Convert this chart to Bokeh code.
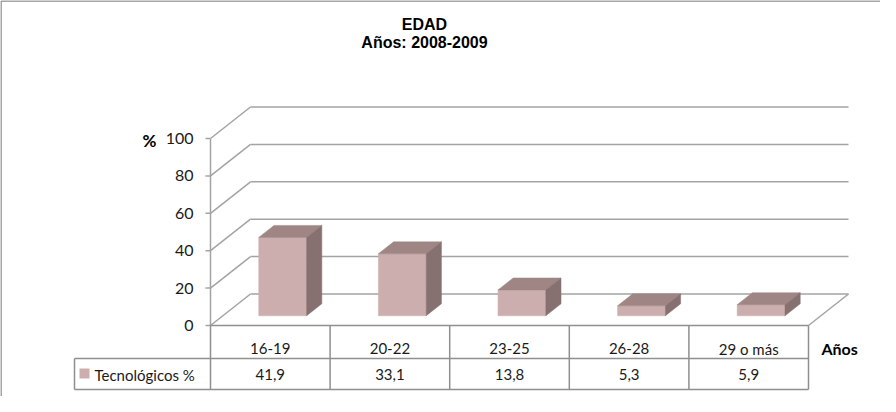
from bokeh.plotting import figure
from bokeh.models import Range1d
from bokeh.core.properties import value
from bokeh.embed import file_html
from bokeh.resources import INLINE

# ---- data ----
categories = ["16-19", "20-22", "23-25", "26-28", "29 o más"]
tecnologicos = [41.9, 33.1, 13.8, 5.3, 5.9]
value_labels = ["41,9", "33,1", "13,8", "5,3", "5,9"]
y_ticks = [0, 20, 40, 60, 80, 100]
series_name = "Tecnológicos %"
title_lines = ["EDAD", "Años: 2008-2009"]
x_axis_title = "Años"
y_axis_title = "%"

# ---- geometry / style ----
W, H = 880, 396
X0_PAGE, UNIT_X = 218.0, 119.6      # page x of category 0 edge, px per category
Y0_PAGE, UNIT_Y = 333.0, 1.87       # page y of value 0, px per value unit
DX, DY = 40 / UNIT_X, 31.5 / UNIT_Y  # depth offset in data units
F0, F1 = 0.31, 0.69                  # bar depth extents
BW = 0.40                            # bar width in categories

def px(xp):  # page x -> data x
    return (xp - X0_PAGE) / UNIT_X

def py(yp):  # page y -> data y
    return (Y0_PAGE - yp) / UNIT_Y

n = len(categories)
p = figure(width=W, height=H, output_backend="svg", toolbar_location=None,
           x_range=Range1d(px(8), px(8 + W)), y_range=Range1d(py(8 + H), py(8)),
           x_axis_type=None, y_axis_type=None, min_border=0)
p.grid.visible = False
p.outline_line_color = None
p.background_fill_color = "white"

GRID = "#A3A3A3"
TABLE = "#8F8F8F"
FONT = value("Lato")

# outer chart border (top + left visible)
p.segment(x0=[px(8.5), px(8.5)], y0=[py(8.5), py(8.5)],
          x1=[px(8 + W), px(8.5)], y1=[py(8.5), py(8 + H)],
          line_color="#8A8A8A", line_width=1.5)

# walls: left-wall diagonals, back gridlines
vmax = max(y_ticks)
p.segment(x0=[0] * len(y_ticks), y0=y_ticks,
          x1=[DX] * len(y_ticks), y1=[t + DY for t in y_ticks],
          line_color=GRID, line_width=1.5)
p.segment(x0=[DX] * len(y_ticks), y0=[t + DY for t in y_ticks],
          x1=[n + DX] * len(y_ticks), y1=[t + DY for t in y_ticks],
          line_color=GRID, line_width=1.5)
# floor right edge
p.segment(x0=[n], y0=[0], x1=[n + DX], y1=[DY], line_color=GRID, line_width=1.5)
# front value axis
p.segment(x0=[0], y0=[0], x1=[0], y1=[vmax], line_color=GRID, line_width=1.5)
p.segment(x0=[px(X0_PAGE - 5)] * len(y_ticks), y0=y_ticks,
          x1=[0] * len(y_ticks), y1=y_ticks, line_color=GRID, line_width=1.5)
p.text(x=[px(201)] * len(y_ticks), y=y_ticks, text=[str(t) for t in y_ticks],
       text_font=FONT, text_font_size="16px", text_align="right",
       text_baseline="middle", text_color="#1a1a1a")

# bars (3D boxes)
FRONT, TOP, SIDE = "#CDAEAE", "#9F8685", "#877170"
fx, fy, tx, ty, sx, sy = [], [], [], [], [], []
for i, v in enumerate(tecnologicos):
    c = i + 0.5
    l, r = c - BW / 2, c + BW / 2
    fx.append([l + F0 * DX, r + F0 * DX, r + F0 * DX, l + F0 * DX])
    fy.append([F0 * DY, F0 * DY, v + F0 * DY, v + F0 * DY])
    tx.append([l + F0 * DX, r + F0 * DX, r + F1 * DX, l + F1 * DX])
    ty.append([v + F0 * DY, v + F0 * DY, v + F1 * DY, v + F1 * DY])
    sx.append([r + F0 * DX, r + F1 * DX, r + F1 * DX, r + F0 * DX])
    sy.append([F0 * DY, F1 * DY, v + F1 * DY, v + F0 * DY])
p.patches(xs=fx, ys=fy, fill_color=FRONT, line_color=FRONT, line_width=0.5)
p.patches(xs=tx, ys=ty, fill_color=TOP, line_color=TOP, line_width=0.5)
p.patches(xs=sx, ys=sy, fill_color=SIDE, line_color=SIDE, line_width=0.5)

# data table
row1_bot = py(366)
row2_bot = py(397)
leg_left = px(82)
p.segment(x0=[0], y0=[0], x1=[n], y1=[0], line_color=TABLE, line_width=1.5)
p.segment(x0=list(range(n + 1)), y0=[0] * (n + 1),
          x1=list(range(n + 1)), y1=[row2_bot] * (n + 1),
          line_color=TABLE, line_width=1.5)
p.segment(x0=[leg_left, leg_left, leg_left], y0=[row1_bot, row2_bot, row1_bot],
          x1=[n, n, leg_left], y1=[row1_bot, row2_bot, row2_bot],
          line_color=TABLE, line_width=1.5)
centers = [i + 0.5 for i in range(n)]
p.text(x=centers, y=[py(356)] * n, text=categories, text_font=FONT,
       text_font_size="15px", text_align="center", text_baseline="middle",
       text_color="#1a1a1a")
p.text(x=centers, y=[py(382)] * n, text=value_labels, text_font=FONT,
       text_font_size="15px", text_align="center", text_baseline="middle",
       text_color="#1a1a1a")
# legend key
p.quad(left=[px(87)], right=[px(97)], bottom=[py(386)], top=[py(376)],
       fill_color=FRONT, line_color=None)
p.text(x=[px(102)], y=[py(382)], text=[series_name], text_font=FONT,
       text_font_size="15px", text_align="left", text_baseline="middle",
       text_color="#1a1a1a")

# axis titles
p.text(x=[px(157)], y=[py(148)], text=[y_axis_title], text_font=FONT,
       text_font_size="17px", text_font_style="bold", text_align="center",
       text_baseline="middle", text_color="black")
p.text(x=[px(829)], y=[py(356)], text=[x_axis_title], text_font=FONT,
       text_font_size="16px", text_font_style="bold", text_align="left",
       text_baseline="middle", text_color="black")

# chart title
p.text(x=[px(432), px(432)], y=[py(32), py(50)], text=title_lines,
       text_font=value("Liberation Sans"), text_font_size="16px",
       text_font_style="bold", text_align="center", text_baseline="middle",
       text_color="black")

open("out.html", "w").write(file_html(p, INLINE))
